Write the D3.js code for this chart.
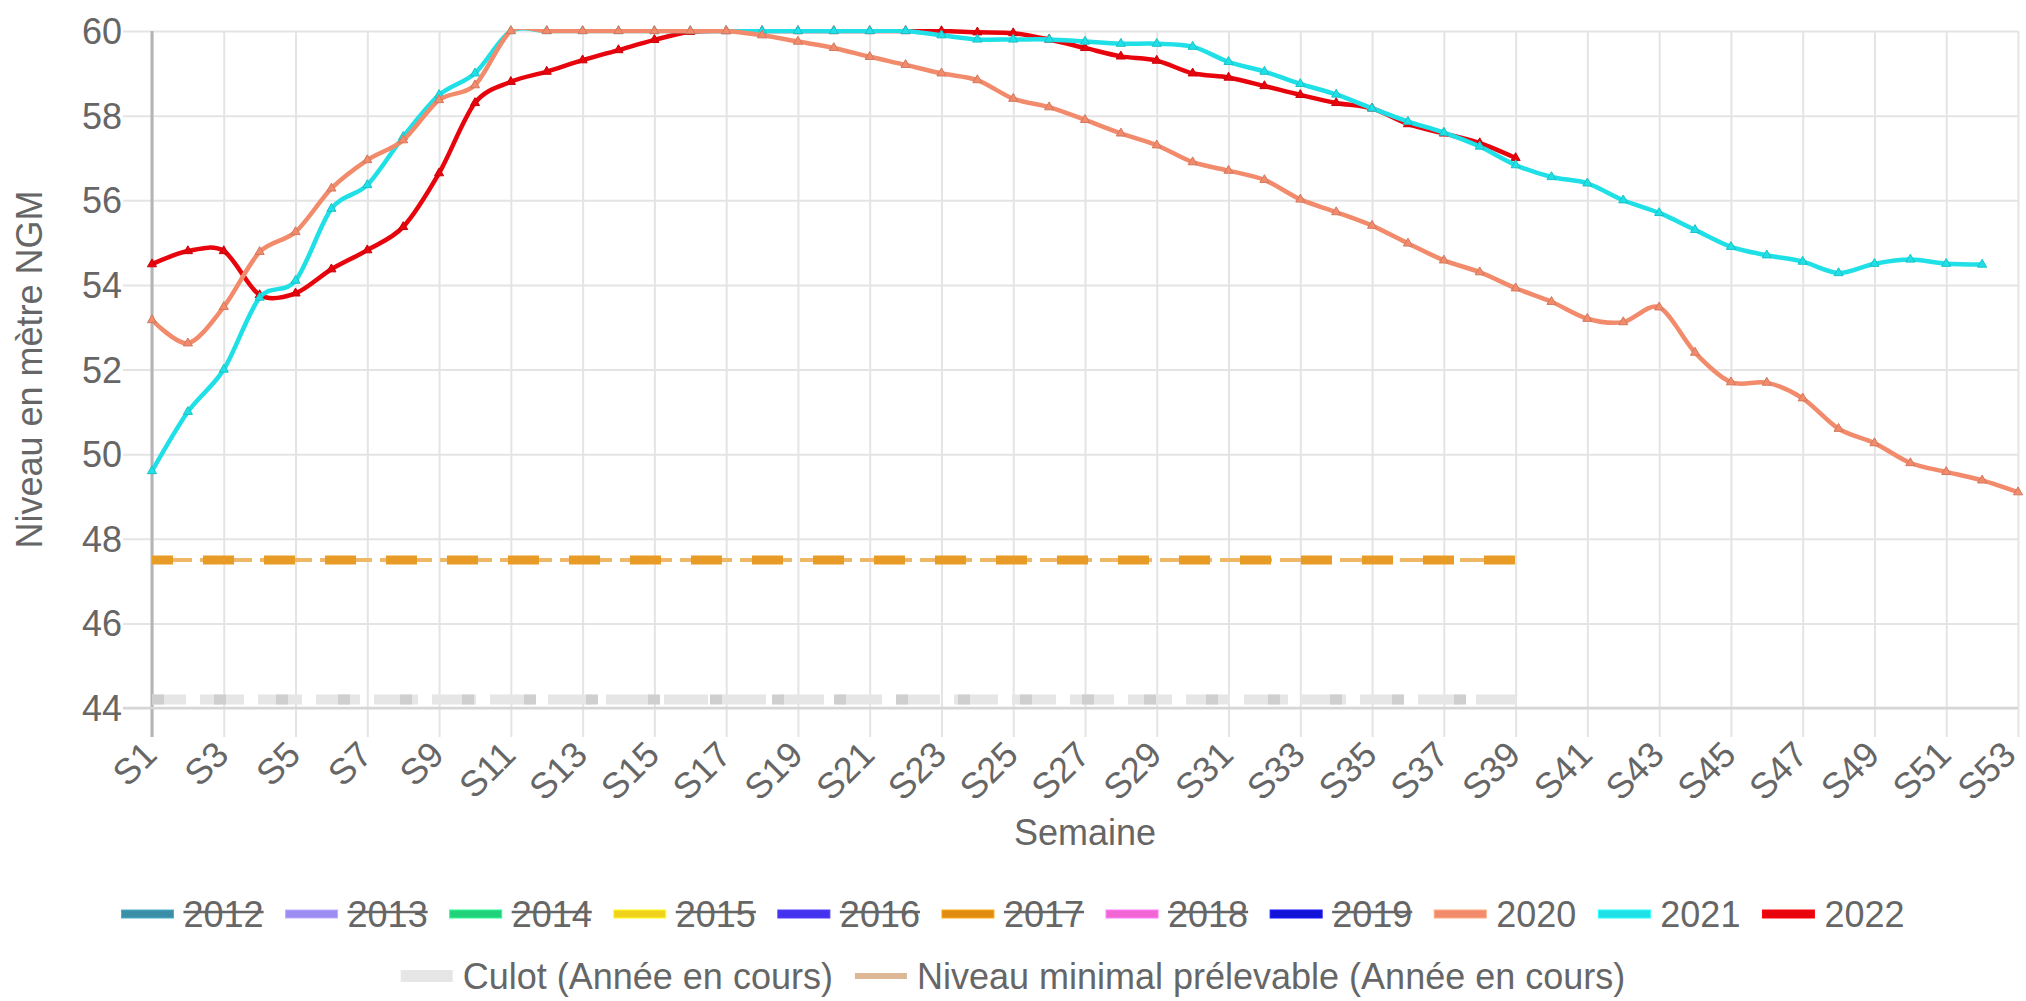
<!DOCTYPE html>
<html>
<head>
<meta charset="utf-8">
<script src="https://cdn.jsdelivr.net/npm/d3@7"></script>
<style>
  html, body { margin: 0; padding: 0; background: #fff; }
  svg { display: block; font-family: "Liberation Sans", Arial, sans-serif; }
</style>
</head>
<body>
<svg id="chart" width="2026" height="1001"></svg>
<script>
// ---------- DATA ----------
const weeks = ["S1","S2","S3","S4","S5","S6","S7","S8","S9","S10","S11","S12","S13","S14","S15","S16","S17","S18","S19","S20","S21","S22","S23","S24","S25","S26","S27","S28","S29","S30","S31","S32","S33","S34","S35","S36","S37","S38","S39","S40","S41","S42","S43","S44","S45","S46","S47","S48","S49","S50","S51","S52","S53"];
const xTickLabels = ["S1","S3","S5","S7","S9","S11","S13","S15","S17","S19","S21","S23","S25","S27","S29","S31","S33","S35","S37","S39","S41","S43","S45","S47","S49","S51","S53"];
const yTickValues = [44, 46, 48, 50, 52, 54, 56, 58, 60];

const values2020 = [53.17, 52.62, 53.48, 54.78, 55.25, 56.28, 56.95, 57.42, 58.37, 58.72,
  60, 60, 60, 60, 60, 60, 60, 59.9, 59.75, 59.6,
  59.39, 59.2, 59.0, 58.84, 58.4, 58.2, 57.9, 57.58, 57.3, 56.9,
  56.7, 56.48, 56.02, 55.72, 55.4, 54.98, 54.58, 54.3, 53.92, 53.6,
  53.2, 53.12, 53.47, 52.4, 51.7, 51.69, 51.32, 50.6, 50.26, 49.79,
  49.58, 49.38, 49.1];
const values2021 = [49.6, 51.0, 52.0, 53.7, 54.1, 55.8, 56.36, 57.5, 58.49, 59.0,
  60, 60, 60, 60, 60, 60, 60, 60, 60, 60,
  60, 60, 59.9, 59.8, 59.8, 59.8, 59.75, 59.7, 59.7, 59.63,
  59.27, 59.04, 58.75, 58.5, 58.17, 57.86, 57.6, 57.27, 56.83, 56.55,
  56.4, 56.0, 55.7, 55.3, 54.9, 54.7, 54.55, 54.28, 54.5, 54.6,
  54.5, 54.48];
const values2022 = [54.49, 54.8, 54.8, 53.76, 53.8, 54.37, 54.82, 55.37, 56.64, 58.3,
  58.8, 59.04, 59.31, 59.55, 59.79, 59.98, 60, 60, 60, 60,
  60, 60, 60, 59.97, 59.95, 59.8, 59.6, 59.4, 59.3, 59.0,
  58.9, 58.7, 58.49, 58.3, 58.17, 57.8, 57.58, 57.35, 57.0];
const culot = [44.2, 44.2, 44.2, 44.2, 44.2, 44.2, 44.2, 44.2, 44.2, 44.2,
  44.2, 44.2, 44.2, 44.2, 44.2, 44.2, 44.2, 44.2, 44.2, 44.2,
  44.2, 44.2, 44.2, 44.2, 44.2, 44.2, 44.2, 44.2, 44.2, 44.2,
  44.2, 44.2, 44.2, 44.2, 44.2, 44.2, 44.2, 44.2, 44.2];
const niveauMinimal = [47.5, 47.5, 47.5, 47.5, 47.5, 47.5, 47.5, 47.5, 47.5, 47.5,
  47.5, 47.5, 47.5, 47.5, 47.5, 47.5, 47.5, 47.5, 47.5, 47.5,
  47.5, 47.5, 47.5, 47.5, 47.5, 47.5, 47.5, 47.5, 47.5, 47.5,
  47.5, 47.5, 47.5, 47.5, 47.5, 47.5, 47.5, 47.5, 47.5];

const legendYears = ["2012","2013","2014","2015","2016","2017","2018","2019","2020","2021","2022"];
const legendColors = ["#3a8ea6","#9b8cf2","#22d17a","#f0d21c","#4433ee","#e08c12","#f266d4","#1414d8","#f28b6c","#1fe0e6","#e8040c"];
const legendHidden = [true,true,true,true,true,true,true,true,false,false,false];
const legendExtra = ["Culot (Année en cours)", "Niveau minimal prélevable (Année en cours)"];

// ---------- DRAW ----------
(function draw() {
const svg = d3.select("#chart");
const W = 2026, H = 1001;
const mLeft = 152, mRight = 2018, mTop = 31, mBottom = 708;
const textColor = "#666";
const fontSize = 36;

const x = d3.scalePoint().domain(weeks).range([mLeft, mRight]);
const y = d3.scaleLinear().domain([44, 60]).range([mBottom, mTop]);

svg.append("rect").attr("width", W).attr("height", H).attr("fill", "#fff");
svg.append("defs").append("clipPath").attr("id", "plotclip")
  .append("rect").attr("x", mLeft - 10).attr("y", mTop - 2).attr("width", mRight - mLeft + 20).attr("height", mBottom - mTop + 12);

// horizontal gridlines (y axis)
const tickOut = 29;
const yAxis = d3.axisLeft(y).tickValues(yTickValues).tickSize(mRight - mLeft + tickOut).tickPadding(2).tickFormat(d3.format("d"));
const gy = svg.append("g").attr("transform", `translate(${mRight},0)`).call(yAxis);
gy.select(".domain").remove();
gy.selectAll(".tick line").attr("stroke", "#e4e4e4").attr("stroke-width", 2);
gy.selectAll(".tick text").attr("fill", textColor).attr("font-size", fontSize)
  .attr("x", -(mRight - mLeft + tickOut) - 1).attr("dy", "0.35em");

// vertical gridlines (x axis)
const xAxis = d3.axisBottom(x).tickValues(xTickLabels).tickSize(-(mBottom - mTop) - tickOut).tickFormat("");
const gx = svg.append("g").attr("transform", `translate(0,${mBottom + tickOut})`).call(xAxis);
gx.select(".domain").remove();
gx.selectAll(".tick line").attr("stroke", "#e4e4e4").attr("stroke-width", 2);

// rotated x tick labels (kept inside the canvas at the right edge)
svg.append("g").selectAll("text").data(xTickLabels).join("text")
  .attr("transform", d => `translate(${Math.min(x(d) - 2, W - 17)},${mBottom + 40}) rotate(-45)`)
  .attr("text-anchor", "end").attr("dy", "0.35em")
  .attr("fill", textColor).attr("font-size", fontSize)
  .text(d => d);

// left axis line
svg.append("line").attr("x1", mLeft).attr("x2", mLeft).attr("y1", mTop).attr("y2", mBottom + tickOut)
  .attr("stroke", "#b4b4b4").attr("stroke-width", 3);
// bottom line
svg.append("line").attr("x1", mLeft - tickOut).attr("x2", mRight).attr("y1", mBottom).attr("y2", mBottom)
  .attr("stroke", "#d6d6d6").attr("stroke-width", 2.5);

// axis titles
svg.append("text").attr("transform", `translate(42,${(mTop + mBottom) / 2}) rotate(-90)`)
  .attr("text-anchor", "middle").attr("fill", textColor).attr("font-size", fontSize)
  .text("Niveau en mètre NGM");
svg.append("text").attr("x", (mLeft + mRight) / 2).attr("y", 845)
  .attr("text-anchor", "middle").attr("fill", textColor).attr("font-size", fontSize)
  .text("Semaine");

// ---------- SERIES ----------
const plot = svg.append("g");
const lineGen = d3.line().x((d, i) => x(weeks[i])).y(d => y(d)).curve(d3.curveCardinal.tension(0.1));
const straight = d3.line().x((d, i) => x(weeks[i])).y(d => y(d));

// Culot (grey thick dashed, two layers)
plot.append("path").attr("d", straight(culot)).attr("fill", "none")
  .attr("stroke", "#e6e6e6").attr("stroke-width", 10).attr("stroke-dasharray", "44,14").attr("stroke-dashoffset", 10);
plot.append("path").attr("d", straight(culot)).attr("fill", "none")
  .attr("stroke", "#cfcfcf").attr("stroke-width", 10).attr("stroke-dasharray", "12,50").attr("stroke-dashoffset", 0);

// Niveau minimal prélevable (orange dashed, two layers)
plot.append("path").attr("d", straight(niveauMinimal)).attr("fill", "none")
  .attr("stroke", "#efb868").attr("stroke-width", 4).attr("stroke-dasharray", "52,8").attr("stroke-dashoffset", 12);
plot.append("path").attr("d", straight(niveauMinimal)).attr("fill", "none")
  .attr("stroke", "#e99c25").attr("stroke-width", 9).attr("stroke-dasharray", "31,30").attr("stroke-dashoffset", 10);

const series = [
  { name: "2022", values: values2022, color: "#e8040c" },
  { name: "2021", values: values2021, color: "#1fe0e6" },
  { name: "2020", values: values2020, color: "#f28b6c" }
];
series.forEach(s => {
  plot.append("path").attr("d", lineGen(s.values)).attr("fill", "none")
    .attr("clip-path", "url(#plotclip)")
    .attr("stroke", s.color).attr("stroke-width", 4.5).attr("stroke-linejoin", "round");
  plot.append("g").selectAll("path").data(s.values).join("path")
    .attr("transform", (d, i) => `translate(${x(weeks[i])},${y(d)})`)
    .attr("d", d3.symbol(d3.symbolTriangle, 36))
    .attr("fill", s.color).attr("stroke", d3.color(s.color).darker(0.4)).attr("stroke-width", 1);
});

// ---------- LEGEND ----------
const swW = 52, swGap = 10, itemGap = 22;
function textWidth(str) {
  const t = svg.append("text").attr("font-size", fontSize).text(str);
  const w = t.node().getComputedTextLength();
  t.remove();
  return w;
}
const leg = svg.append("g");
// row 1
const row1 = legendYears.map((n, i) => ({ name: n, color: legendColors[i], hidden: legendHidden[i], w: textWidth(n) }));
const total1 = d3.sum(row1, d => swW + swGap + d.w) + itemGap * (row1.length - 1);
let cx = W / 2 - total1 / 2;
const row1Y = 914;
row1.forEach(d => {
  leg.append("rect").attr("x", cx).attr("y", row1Y - 4).attr("width", swW).attr("height", 8)
    .attr("fill", d.color).attr("stroke", d3.color(d.color).brighter(0.6)).attr("stroke-width", 1);
  leg.append("text").attr("x", cx + swW + swGap).attr("y", row1Y).attr("dy", "0.35em")
    .attr("fill", textColor).attr("font-size", fontSize).text(d.name);
  if (d.hidden) {
    leg.append("line").attr("x1", cx + swW + swGap).attr("x2", cx + swW + swGap + d.w)
      .attr("y1", row1Y - 2).attr("y2", row1Y - 2).attr("stroke", textColor).attr("stroke-width", 2.5);
  }
  cx += swW + swGap + d.w + itemGap;
});
// row 2
const row2 = [
  { name: legendExtra[0], color: "#e6e6e6", h: 12 },
  { name: legendExtra[1], color: "#dcb896", h: 6 }
].map(d => Object.assign({}, d, { w: textWidth(d.name) }));
const total2 = d3.sum(row2, d => swW + swGap + d.w) + itemGap * (row2.length - 1);
cx = W / 2 - total2 / 2;
const row2Y = 976;
row2.forEach(d => {
  leg.append("rect").attr("x", cx).attr("y", row2Y - d.h / 2).attr("width", swW).attr("height", d.h)
    .attr("fill", d.color);
  leg.append("text").attr("x", cx + swW + swGap).attr("y", row2Y).attr("dy", "0.35em")
    .attr("fill", textColor).attr("font-size", fontSize).text(d.name);
  cx += swW + swGap + d.w + itemGap;
});
})();
</script>
</body>
</html>
